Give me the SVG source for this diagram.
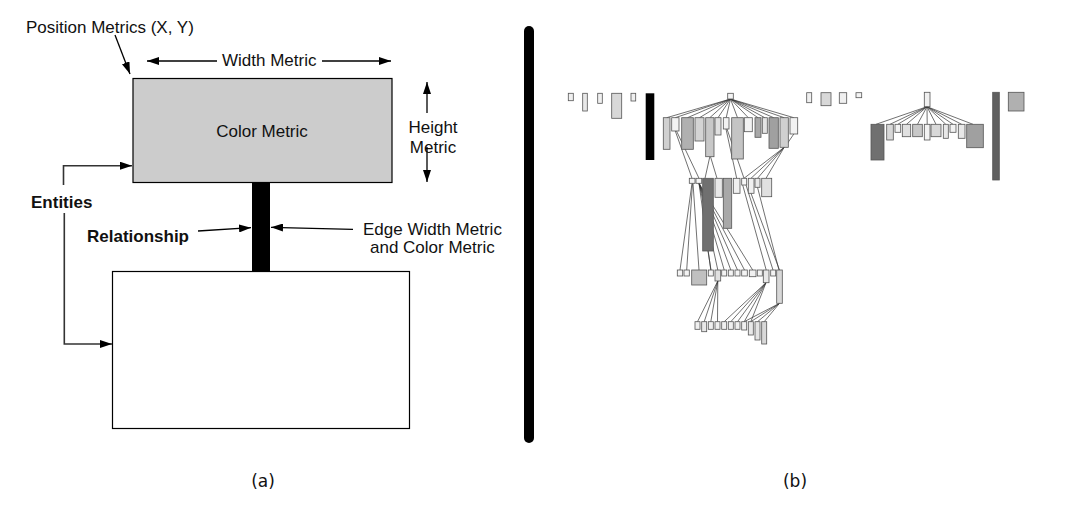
<svg xmlns="http://www.w3.org/2000/svg" width="1068" height="531" viewBox="0 0 1068 531">
<style>
.t{font-family:"Liberation Sans",Arial,sans-serif;font-size:17px;fill:#111}
.b{font-weight:bold}
.cap{font-family:"DejaVu Sans",sans-serif;font-size:17px;fill:#111}
.a{stroke:#000;stroke-width:1.3;fill:none}
.g{stroke:#333;stroke-width:1.6;fill:none}
.n{stroke:#555;stroke-width:0.8}
.e{stroke:#333;stroke-width:0.7;fill:none}
</style>
<defs>
<marker id="ah" markerUnits="userSpaceOnUse" markerWidth="12" markerHeight="8" refX="12" refY="4" orient="auto">
<path d="M0,0 L12,4 L0,8 z" fill="#000"/>
</marker>
</defs>
<rect width="1068" height="531" fill="#fff"/>

<!-- Panel (a) -->
<g id="entity-top"><rect x="133" y="78.5" width="259" height="104" fill="#cccccc" stroke="#000" stroke-width="1.2"/><text class="t" x="262" y="137" text-anchor="middle" fill="#222">Color Metric</text></g>
<g id="relationship-bar"><rect x="252" y="182.5" width="18" height="89" fill="#000"/></g>
<g id="entity-bottom"><rect x="112.5" y="271.5" width="297" height="157" fill="#fff" stroke="#000" stroke-width="1.2"/></g>

<g id="labels">
<text class="t" x="26" y="33">Position Metrics (X, Y)</text>
<text class="t" x="222" y="66">Width Metric</text>
<text class="t" x="433" y="133" text-anchor="middle">Height</text>
<text class="t" x="433" y="153" text-anchor="middle">Metric</text>
<text class="t b" x="31" y="208">Entities</text>
<text class="t b" x="87" y="242">Relationship</text>
<text class="t" x="363" y="235">Edge Width Metric</text>
<text class="t" x="370" y="253">and Color Metric</text>
<text class="cap" x="263" y="487" text-anchor="middle">(a)</text>
<text class="cap" x="795" y="487" text-anchor="middle">(b)</text>
</g>

<g id="connectors">
<line class="a" x1="115" y1="35" x2="130" y2="74" marker-end="url(#ah)"/>
<line class="a" x1="217" y1="61" x2="147" y2="61" marker-end="url(#ah)"/>
<line class="a" x1="322" y1="61" x2="391" y2="61" marker-end="url(#ah)"/>
<line class="a" x1="427" y1="113" x2="427" y2="82" marker-end="url(#ah)"/>
<line class="a" x1="427" y1="147" x2="427" y2="182" marker-end="url(#ah)"/>
<path class="g" d="M63.5,185 V165.7 H132" marker-end="url(#ah)"/>
<path class="g" d="M64.3,213 V344 H112" marker-end="url(#ah)"/>
<line class="a" x1="198" y1="231" x2="251" y2="227.7" marker-end="url(#ah)"/>
<line class="a" x1="353" y1="229.3" x2="271" y2="227.3" marker-end="url(#ah)"/>
</g>

<line x1="529" y1="31" x2="529" y2="438" stroke="#000" stroke-width="10" stroke-linecap="round"/>

<!-- Panel (b) edges -->
<g id="b-edges">
<path class="e" d="M730.5,99 L666.7,117.7 M730.5,99 L675.3,117.7 M730.5,99 L687.5,117.7 M730.5,99 L699.5,117.7 M730.5,99 L709.8,117.7 M730.5,99 L718,117.7 M730.5,99 L726.2,117.7 M730.5,99 L737.5,117.7 M730.5,99 L748.3,117.7 M730.5,99 L758,117.7 M730.5,99 L764.8,117.7 M730.5,99 L773.7,117.7 M730.5,99 L784.2,117.7 M730.5,99 L793.8,117.7"/>
<path class="e" d="M675.3,131 L692,178.3 M676.5,131 L699,178.3 M709.8,156.7 L705,178.3 M710.5,156.7 L717,178.3 M726,129 L736.7,178.3 M727,129 L744,178.3 M784.2,147.3 L744,178.3 M784.2,147.3 L751,178.3 M784.2,147.3 L757.5,178.3 M784.2,147.3 L766,178.3 M793.8,134 L785,147"/>
<path class="e" d="M692,183.3 L680,270 M692.5,183.3 L686.7,270 M693,183.3 L699,270 M699,183.3 L710.8,270 M699,183.3 L717.8,270 M699,183.3 L724.2,270 M699,183.3 L730.8,270 M699,183.3 L737.5,270 M699,183.3 L744.5,270 M699,183.3 L752.7,270 M708,251 L711,270 M742.7,185 L766.2,270 M746,185 L773,270 M751,193.3 L779.5,270 M757.5,187.3 L779,270"/>
<path class="e" d="M717.8,281 L697.5,321.7 M717.8,281 L704.2,321.7 M717.8,281 L710.8,321.7 M717.8,281 L717.5,321.7 M766,282.7 L724.2,321.7 M766,282.7 L730.8,321.7 M766,282.7 L737.5,321.7 M766,282.7 L744.2,321.7 M766,282.7 L750.8,321.7 M779.5,303.3 L744.2,321.7 M779.5,303.3 L750.8,321.7 M779.5,303.3 L757.5,321.7 M779.5,303.3 L764.2,321.7"/>
<path class="e" d="M927,106.7 L876,124.3 M927,106.7 L890,124.3 M927,106.7 L897.8,124.3 M927,106.7 L906.5,124.3 M927,106.7 L917.5,124.3 M927,106.7 L927.2,124.3 M927,106.7 L936,124.3 M927,106.7 L945.8,124.3 M927,106.7 L953,124.3 M927,106.7 L961.7,124.3 M927,106.7 L973,124.3"/>
</g>

<!-- Panel (b) nodes -->
<g id="b-isolated-left">
<g id="bn-l1"><rect class="n" x="568.3" y="93.3" width="5" height="7.4" fill="#f0f0f0"/></g>
<g id="bn-l2"><rect class="n" x="582.7" y="93.3" width="4.6" height="17.7" fill="#e8e8e8"/></g>
<g id="bn-l3"><rect class="n" x="597.7" y="93.3" width="4.6" height="10" fill="#f0f0f0"/></g>
<g id="bn-l4"><rect class="n" x="611.7" y="93.3" width="10" height="25" fill="#d8d8d8"/></g>
<g id="bn-l5"><rect class="n" x="631" y="93.3" width="4.7" height="7.7" fill="#f0f0f0"/></g>
<g id="bn-l6"><rect x="645.7" y="93.3" width="8.6" height="66.7" fill="#000"/></g>
</g>

<g id="b-tree1">
<g id="bt1-root"><rect class="n" x="727.7" y="93.3" width="5.6" height="5.7" fill="#f4f4f4"/></g>
<g id="bt1-c1"><rect class="n" x="663.3" y="117.7" width="6.7" height="31.6" fill="#d0d0d0"/></g>
<g id="bt1-c2"><rect class="n" x="671.7" y="117.7" width="7.3" height="13.3" fill="#f2f2f2"/></g>
<g id="bt1-c3"><rect class="n" x="681.7" y="117.7" width="11.6" height="31.6" fill="#b0b0b0"/></g>
<g id="bt1-c4"><rect class="n" x="695" y="117.7" width="9" height="23.3" fill="#d4d4d4"/></g>
<g id="bt1-c5"><rect class="n" x="705.7" y="117.7" width="8.3" height="39" fill="#c8c8c8"/></g>
<g id="bt1-c6"><rect class="n" x="715" y="117.7" width="6" height="17.3" fill="#e0e0e0"/></g>
<g id="bt1-c7"><rect class="n" x="723.3" y="117.7" width="5.7" height="11.3" fill="#f2f2f2"/></g>
<g id="bt1-c8"><rect class="n" x="731.7" y="117.7" width="11.6" height="41.3" fill="#c4c4c4"/></g>
<g id="bt1-c9"><rect class="n" x="744.3" y="117.7" width="8" height="14" fill="#f2f2f2"/></g>
<g id="bt1-c10"><rect class="n" x="755" y="117.7" width="6" height="19.6" fill="#a8a8a8"/></g>
<g id="bt1-c11"><rect class="n" x="762.3" y="117.7" width="5" height="15.6" fill="#e4e4e4"/></g>
<g id="bt1-c12"><rect class="n" x="769" y="117.7" width="9.3" height="30.6" fill="#a0a0a0"/></g>
<g id="bt1-c13"><rect class="n" x="780" y="117.7" width="8.3" height="29.6" fill="#d0d0d0"/></g>
<g id="bt1-c14"><rect class="n" x="790" y="117.7" width="7.7" height="16.3" fill="#f2f2f2"/></g>

<g id="bt1-r3-1"><rect class="n" x="689.3" y="178.3" width="5.7" height="5" fill="#f4f4f4"/></g>
<g id="bt1-r3-2"><rect class="n" x="696" y="178.3" width="5.7" height="5" fill="#f4f4f4"/></g>
<g id="bt1-r3-3"><rect class="n" x="702.7" y="178.3" width="10.6" height="72.7" fill="#707070"/></g>
<g id="bt1-r3-4"><rect class="n" x="715" y="178.3" width="7.3" height="19" fill="#e8e8e8"/></g>
<g id="bt1-r3-5"><rect class="n" x="723.3" y="178.3" width="8.4" height="50" fill="#a8a8a8"/></g>
<g id="bt1-r3-6"><rect class="n" x="733.3" y="178.3" width="6.7" height="15" fill="#f0f0f0"/></g>
<g id="bt1-r3-7"><rect class="n" x="741.7" y="178.3" width="5" height="6.7" fill="#f8f8f8"/></g>
<g id="bt1-r3-8"><rect class="n" x="748.3" y="178.3" width="5.7" height="15" fill="#f0f0f0"/></g>
<g id="bt1-r3-9"><rect class="n" x="755" y="178.3" width="5" height="9" fill="#e8e8e8"/></g>
<g id="bt1-r3-10"><rect class="n" x="761.7" y="178.3" width="10" height="18.4" fill="#e0e0e0"/></g>

<g id="bt1-r4-1"><rect class="n" x="677.3" y="270" width="5.4" height="6" fill="#f4f4f4"/></g>
<g id="bt1-r4-2"><rect class="n" x="684" y="270" width="5.3" height="6" fill="#f4f4f4"/></g>
<g id="bt1-r4-3"><rect class="n" x="691.7" y="270" width="15" height="15" fill="#c0c0c0"/></g>
<g id="bt1-r4-4"><rect class="n" x="708.3" y="270" width="5" height="6" fill="#f4f4f4"/></g>
<g id="bt1-r4-5"><rect class="n" x="715" y="270" width="5.7" height="11" fill="#e0e0e0"/></g>
<g id="bt1-r4-6"><rect class="n" x="721.7" y="270" width="5" height="6" fill="#f4f4f4"/></g>
<g id="bt1-r4-7"><rect class="n" x="728.3" y="270" width="5" height="6" fill="#f4f4f4"/></g>
<g id="bt1-r4-8"><rect class="n" x="735" y="270" width="5" height="6" fill="#f4f4f4"/></g>
<g id="bt1-r4-9"><rect class="n" x="741.7" y="270" width="5.6" height="6" fill="#f4f4f4"/></g>
<g id="bt1-r4-10"><rect class="n" x="749.3" y="270" width="6.7" height="6.7" fill="#f0f0f0"/></g>
<g id="bt1-r4-11"><rect class="n" x="757.3" y="270" width="5" height="6" fill="#f4f4f4"/></g>
<g id="bt1-r4-12"><rect class="n" x="763.3" y="270" width="5.7" height="12.7" fill="#e8e8e8"/></g>
<g id="bt1-r4-13"><rect class="n" x="770.7" y="270" width="5" height="6" fill="#f4f4f4"/></g>
<g id="bt1-r4-14"><rect class="n" x="776.7" y="270" width="5.6" height="33.3" fill="#d8d8d8"/></g>

<g id="bt1-r5-1"><rect class="n" x="695" y="321.7" width="5" height="7.6" fill="#f0f0f0"/></g>
<g id="bt1-r5-2"><rect class="n" x="701.7" y="321.7" width="5" height="10" fill="#e8e8e8"/></g>
<g id="bt1-r5-3"><rect class="n" x="708.3" y="321.7" width="5" height="7.6" fill="#f0f0f0"/></g>
<g id="bt1-r5-4"><rect class="n" x="715" y="321.7" width="5" height="7.6" fill="#f0f0f0"/></g>
<g id="bt1-r5-5"><rect class="n" x="721.7" y="321.7" width="5" height="7.6" fill="#f0f0f0"/></g>
<g id="bt1-r5-6"><rect class="n" x="728.3" y="321.7" width="5" height="7.6" fill="#f0f0f0"/></g>
<g id="bt1-r5-7"><rect class="n" x="735" y="321.7" width="5" height="7.6" fill="#f0f0f0"/></g>
<g id="bt1-r5-8"><rect class="n" x="741.7" y="321.7" width="5" height="8.3" fill="#f0f0f0"/></g>
<g id="bt1-r5-9"><rect class="n" x="748.3" y="321.7" width="5" height="13.3" fill="#e8e8e8"/></g>
<g id="bt1-r5-10"><rect class="n" x="755" y="321.7" width="5" height="18.3" fill="#e4e4e4"/></g>
<g id="bt1-r5-11"><rect class="n" x="761.7" y="321.7" width="5" height="22.3" fill="#d8d8d8"/></g>
</g>

<g id="b-isolated-mid">
<g id="bn-m1"><rect class="n" x="806.7" y="92.7" width="5" height="10" fill="#f0f0f0"/></g>
<g id="bn-m2"><rect class="n" x="821" y="92.7" width="10" height="13" fill="#d8d8d8"/></g>
<g id="bn-m3"><rect class="n" x="839.3" y="92.7" width="7.4" height="10.6" fill="#f0f0f0"/></g>
<g id="bn-m4"><rect class="n" x="856" y="92.7" width="5.7" height="5" fill="#f4f4f4"/></g>
</g>

<g id="b-tree2">
<g id="bt2-root"><rect class="n" x="924.3" y="92.3" width="5.7" height="14.4" fill="#f0f0f0"/></g>
<g id="bt2-c1"><rect class="n" x="871" y="124.3" width="13" height="35.7" fill="#707070"/></g>
<g id="bt2-c2"><rect class="n" x="886.7" y="124.3" width="6.6" height="15.7" fill="#d8d8d8"/></g>
<g id="bt2-c3"><rect class="n" x="895" y="124.3" width="5.7" height="8" fill="#f2f2f2"/></g>
<g id="bt2-c4"><rect class="n" x="902.3" y="124.3" width="8.4" height="12.4" fill="#e0e0e0"/></g>
<g id="bt2-c5"><rect class="n" x="912.7" y="124.3" width="9.6" height="12.4" fill="#c8c8c8"/></g>
<g id="bt2-c6"><rect class="n" x="924.3" y="124.3" width="5.7" height="15.7" fill="#f2f2f2"/></g>
<g id="bt2-c7"><rect class="n" x="931" y="124.3" width="10" height="12.4" fill="#d8d8d8"/></g>
<g id="bt2-c8"><rect class="n" x="943.3" y="124.3" width="5" height="14" fill="#e8e8e8"/></g>
<g id="bt2-c9"><rect class="n" x="950" y="124.3" width="6" height="8" fill="#f2f2f2"/></g>
<g id="bt2-c10"><rect class="n" x="958.3" y="124.3" width="6.7" height="14" fill="#e8e8e8"/></g>
<g id="bt2-c11"><rect class="n" x="966.7" y="124.3" width="16.6" height="23.4" fill="#a0a0a0"/></g>
</g>

<g id="b-isolated-right">
<g id="bn-r1"><rect class="n" x="992.7" y="92.3" width="6.6" height="87.7" fill="#606060"/></g>
<g id="bn-r2"><rect class="n" x="1008.3" y="92.3" width="15.7" height="18.7" fill="#b0b0b0"/></g>
</g>
</svg>
